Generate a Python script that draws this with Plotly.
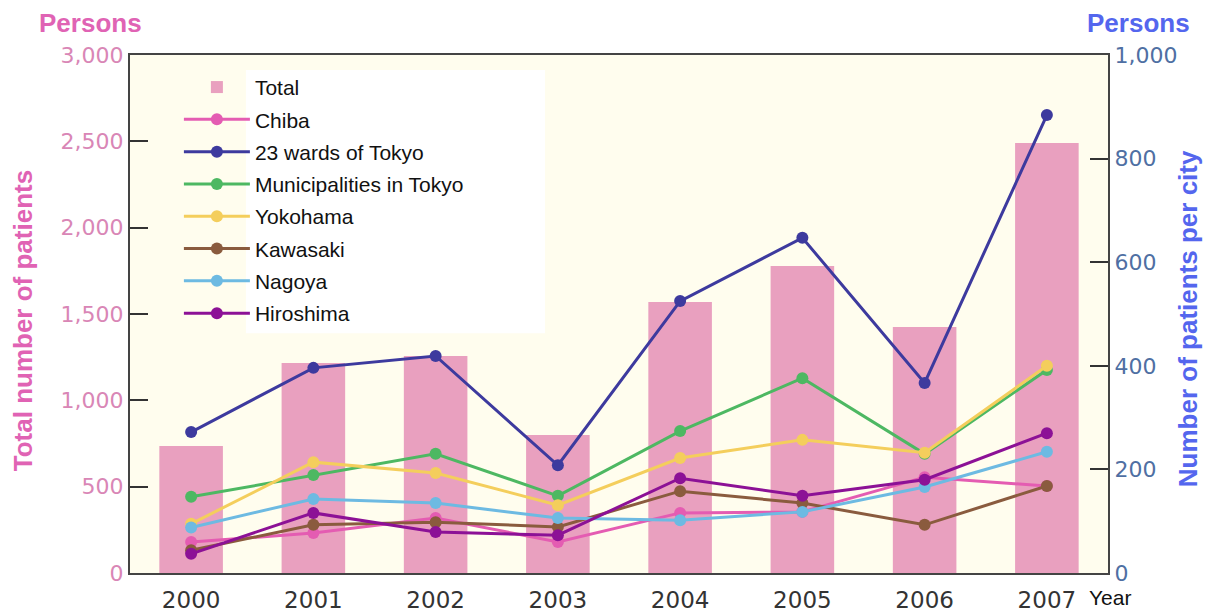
import plotly.graph_objects as go

years = ["2000", "2001", "2002", "2003", "2004", "2005", "2006", "2007"]
total = [735, 1216, 1257, 799, 1569, 1778, 1424, 2490]
chiba = [60, 77, 106, 60, 116, 118, 185, 168]
tokyo23 = [272, 396, 419, 208, 525, 647, 367, 884]
tokyo_muni = [147, 189, 230, 149, 274, 376, 230, 392]
yokohama = [95, 214, 193, 131, 222, 257, 232, 400]
kawasaki = [44, 93, 98, 89, 158, 135, 93, 168]
nagoya = [88, 143, 135, 106, 102, 118, 166, 234]
hiroshima = [37, 116, 79, 73, 183, 149, 180, 270]

city_series = [
    ("Chiba", chiba, "#E45CB2"),
    ("23 wards of Tokyo", tokyo23, "#3D3A9E"),
    ("Municipalities in Tokyo", tokyo_muni, "#4DB862"),
    ("Yokohama", yokohama, "#F4CE5C"),
    ("Kawasaki", kawasaki, "#8A5B3E"),
    ("Nagoya", nagoya, "#6DBAE2"),
    ("Hiroshima", hiroshima, "#8C1196"),
]

FONT = "Liberation Sans, Arial, sans-serif"
TICKFONT = "DejaVu Sans, sans-serif"
PINK_T = "#E063B4"
BLUE_T = "#5466EE"

fig = go.Figure()
fig.add_trace(go.Bar(
    x=years, y=total, name="Total", marker=dict(color="#E9A0BF", line=dict(width=0)),
    width=0.52, legendgroup="g0",
))
for i, (name, vals, col) in enumerate(city_series):
    fig.add_trace(go.Scatter(
        x=years, y=vals, name=name, yaxis="y2", mode="lines+markers",
        line=dict(color=col, width=3), marker=dict(color=col, size=12),
        legendgroup=f"g{i + 1}",
    ))

fig.update_layout(
    width=1205, height=615,
    margin=dict(l=130, r=97, t=55, b=42),
    paper_bgcolor="white", plot_bgcolor="#FFFDEE",
    font=dict(family=FONT, size=18, color="#333333"),
    showlegend=True,
    legend=dict(
        x=0.05, y=0.977, xanchor="left", yanchor="top",
        bgcolor="rgba(0,0,0,0)", font=dict(family=FONT, size=21, color="#111111"),
        itemwidth=66, tracegroupgap=2, traceorder="grouped",
    ),
    xaxis=dict(
        type="category", range=[-0.5, 7.5], showgrid=False, automargin=False,
        showline=True, linecolor="#444444", linewidth=2, mirror=True,
        ticks="", ticklabelstandoff=5,
        tickfont=dict(family=TICKFONT, size=23, color="#333333"),
    ),
    yaxis=dict(
        range=[0, 3000], dtick=500, tickformat=",", showgrid=False, automargin=False,
        showline=True, linecolor="#444444", linewidth=2,
        ticks="inside", ticklen=18, tickwidth=2, tickcolor="#333333",
        tickfont=dict(family=TICKFONT, size=22, color="#D986B6"),
        zeroline=False,
    ),
    yaxis2=dict(
        range=[0, 1000], dtick=200, tickformat=",", showgrid=False, automargin=False,
        overlaying="y", side="right",
        showline=True, linecolor="#444444", linewidth=2,
        ticks="inside", ticklen=18, tickwidth=2, tickcolor="#333333",
        tickfont=dict(family=TICKFONT, size=22, color="#4F6FA3"),
        zeroline=False,
    ),
    shapes=[dict(
        type="rect", xref="paper", yref="paper",
        x0=0.1185, x1=0.4243, y0=0.463, y1=0.971,
        fillcolor="white", line=dict(width=0), layer="below",
    )],
    annotations=[
        dict(text="<b>Persons</b>", xref="paper", yref="paper", x=-0.0951, y=1.0618,
             xanchor="left", yanchor="middle", showarrow=False,
             font=dict(family=FONT, size=26, color=PINK_T)),
        dict(text="<b>Persons</b>", xref="paper", yref="paper", x=1.0859, y=1.0618,
             xanchor="right", yanchor="middle", showarrow=False,
             font=dict(family=FONT, size=26, color=BLUE_T)),
        dict(text="<b>Total number of patients</b>", xref="paper", yref="paper",
             x=-0.1094, y=0.486, xanchor="center", yanchor="middle", textangle=-90,
             showarrow=False, font=dict(family=FONT, size=26, color=PINK_T)),
        dict(text="<b>Number of patients per city</b>", xref="paper", yref="paper",
             x=1.0818, y=0.49, xanchor="center", yanchor="middle", textangle=-90,
             showarrow=False, font=dict(family=FONT, size=26, color=BLUE_T)),
        dict(text="Year", xref="paper", yref="paper", x=0.9785, y=-0.048,
             xanchor="left", yanchor="middle", showarrow=False, bgcolor="white",
             font=dict(family=FONT, size=21, color="#111111")),
    ],
)

fig.write_html(
    "out.html",
    config={"displayModeBar": False},
    post_script="document.body.style.margin='0';document.body.style.overflow='hidden';",
)
